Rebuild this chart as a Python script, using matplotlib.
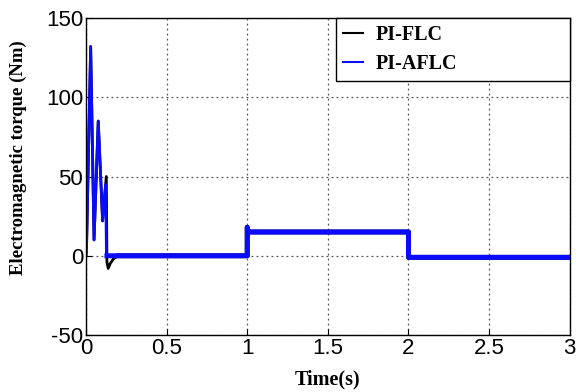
import matplotlib
matplotlib.use("Agg")
from matplotlib import pyplot as plt

# torque response, breakpoints read in (s, Nm)
t_flc = [0, 0.004, 0.029, 0.05, 0.076, 0.103, 0.126, 0.13, 0.138, 0.15, 0.17, 0.2,
         1.0, 1.0, 1.005, 1.02, 2.0, 2.0, 3.0]
te_flc = [0, 8, 132, 10, 85, 22, 50, -4, -8, -5, -2, 0,
          0, 18, 15, 15, 15, -1, -1]

t_aflc = [0, 0.004, 0.029, 0.05, 0.076, 0.103, 0.122, 0.127, 0.13,
          1.0, 1.0, 1.005, 1.02, 2.0, 2.0, 3.0]
te_aflc = [0, 8, 132, 10, 85, 22, 45, 0, 0,
           0, 18, 15, 15, 15, -1, -1]

xticks = [0, 0.5, 1, 1.5, 2, 2.5, 3]
xtick_labels = ["0", "0.5", "1", "1.5", "2", "2.5", "3"]
yticks = [-50, 0, 50, 100, 150]

plt.rcParams["axes.unicode_minus"] = False

fig = plt.figure(figsize=(5.79, 3.92), dpi=100)
ax = fig.add_axes([0.1485, 0.1454, 0.8355, 0.8086])

serif = ["Liberation Serif", "DejaVu Serif"]
sans = ["Liberation Sans", "DejaVu Sans"]

ax.plot(t_flc, te_flc, color="black", lw=2.0, label="PI-FLC")
ax.plot(t_flc[11:], te_flc[11:], color="black", lw=3.5)
ax.plot(t_aflc, te_aflc, color="#0a0aff", lw=2.0, label="PI-AFLC")
# steady-state part carries ripple, drawn as a thicker trace
ax.plot(t_aflc[8:], te_aflc[8:], color="#0a0aff", lw=3.6)

ax.set_xlim(0, 3)
ax.set_ylim(-50, 150)
ax.set_xticks(xticks)
ax.set_xticklabels(xtick_labels)
ax.set_yticks(yticks)
ax.tick_params(direction="in", length=4, width=0.8, labelsize=16, pad=2)
for lab in ax.get_xticklabels() + ax.get_yticklabels():
    lab.set_family(sans)

ax.grid(True, linestyle=(0, (1.5, 2.5)), color="#555555", lw=0.9)
for sp in ax.spines.values():
    sp.set_linewidth(1.0)
    sp.set_color("black")

ax.set_xlabel("Time(s)", fontsize=14.5, fontweight="bold", family=serif, labelpad=8)
ax.set_ylabel("Electromagnetic torque (Nm)", fontsize=13.5, fontweight="bold",
              family=serif)
ax.yaxis.set_label_coords(-0.122, 0.56)

leg = ax.legend(loc="upper right", bbox_to_anchor=(0.517, 0.0, 0.483, 1.0),
                mode="expand", borderaxespad=0, fancybox=False,
                framealpha=1, edgecolor="black", handlelength=1.0,
                handletextpad=0.6,
                prop={"family": serif, "weight": "bold", "size": 14.5},
                labelspacing=0.45, borderpad=0.35)
leg.get_frame().set_linewidth(1.0)
for h in leg.get_lines():
    h.set_linewidth(1.5)

fig.savefig("out.png", dpi=100)
